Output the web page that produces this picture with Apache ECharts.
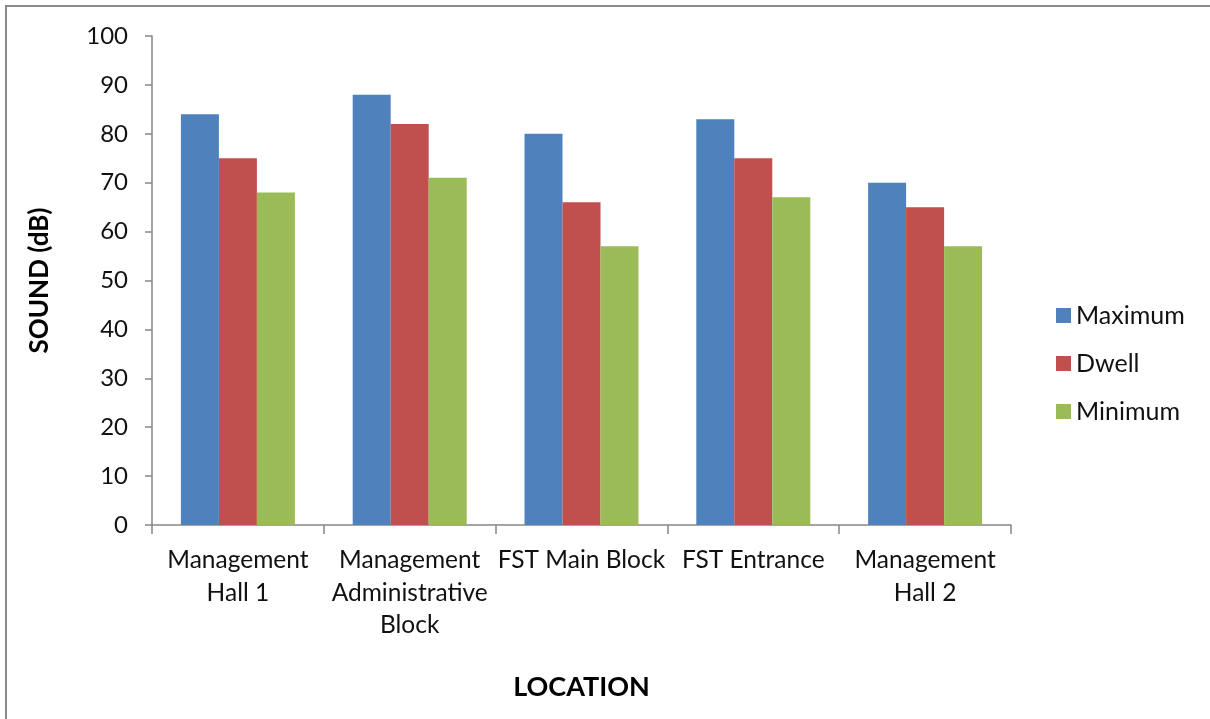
<!DOCTYPE html>
<html>
<head>
<meta charset="utf-8">
<script src="https://cdn.jsdelivr.net/npm/echarts@6/dist/echarts.min.js"></script>
<style>
  html, body { margin: 0; padding: 0; background: #fff; }
  #chart { width: 1210px; height: 719px; }
</style>
</head>
<body>
<div id="chart"></div>
<script>
// Sound levels measured at each campus location
const categories = [
  'Management\nHall 1',
  'Management\nAdministrative\nBlock',
  'FST Main Block',
  'FST Entrance',
  'Management\nHall 2'
];
const maximum = [84, 88, 80, 83, 70];
const dwell = [75, 82, 66, 75, 65];
const minimum = [68, 71, 57, 67, 57];
const yTicks = { min: 0, max: 100, interval: 10 };

const FONT = 'Lato, "Open Sans", sans-serif';
const AXIS = '#868686';

const chart = echarts.init(document.getElementById('chart'), null, { renderer: 'canvas' });

const barSeries = (name, data, color) => ({
  name,
  type: 'bar',
  data,
  barWidth: 38,
  barGap: '0%',
  itemStyle: { color },
  emphasis: { disabled: true }
});

chart.setOption({
  animation: false,
  textStyle: { fontFamily: FONT },
  graphic: [{
    type: 'rect',
    shape: { x: 6, y: 6, width: 1260, height: 760 },
    style: { fill: 'none', stroke: '#8a8a8a', lineWidth: 2 },
    silent: true
  }],
  grid: { left: 152, right: 199, top: 36, bottom: 194 },
  legend: {
    orient: 'vertical',
    left: 1051,
    top: 298,
    itemWidth: 15,
    itemHeight: 15,
    itemGap: 23,
    icon: 'rect',
    textStyle: { fontFamily: FONT, fontSize: 25, color: '#111' },
    data: ['Maximum', 'Dwell', 'Minimum']
  },
  xAxis: {
    type: 'category',
    data: categories,
    name: 'LOCATION',
    nameLocation: 'middle',
    nameGap: 149,
    nameTextStyle: { fontFamily: FONT, fontSize: 27, fontWeight: 'bold', color: '#000' },
    axisLine: { lineStyle: { color: AXIS, width: 1.5 } },
    axisTick: { show: true, length: 9, lineStyle: { color: AXIS, width: 1.5 } },
    axisLabel: { fontSize: 24.5, color: '#111', lineHeight: 32.5, margin: 19, interval: 0 }
  },
  yAxis: {
    type: 'value',
    min: yTicks.min,
    max: yTicks.max,
    interval: yTicks.interval,
    name: 'SOUND (dB)',
    nameLocation: 'middle',
    nameGap: 99,
    nameRotate: 90,
    nameTextStyle: { fontFamily: FONT, fontSize: 26, fontWeight: 'bold', color: '#000' },
    splitLine: { show: false },
    axisLine: { show: true, lineStyle: { color: AXIS, width: 1.5 } },
    axisTick: { show: true, length: 7, lineStyle: { color: AXIS, width: 1.5 } },
    axisLabel: { fontSize: 24, color: '#111', margin: 24 }
  },
  series: [
    barSeries('Maximum', maximum, '#4F81BD'),
    barSeries('Dwell', dwell, '#C0504D'),
    barSeries('Minimum', minimum, '#9BBB59')
  ]
});
</script>
</body>
</html>
